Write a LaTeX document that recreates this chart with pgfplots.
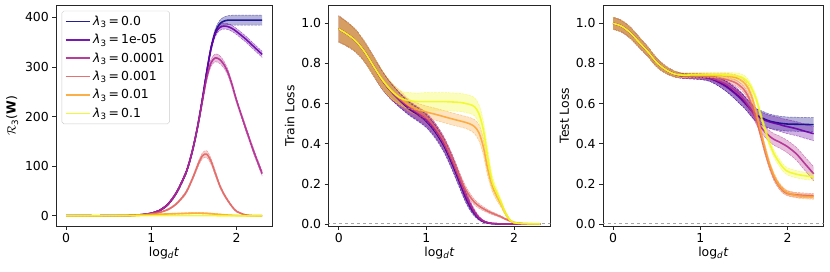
\documentclass[border={3pt 9pt 6pt 5pt}]{standalone}
\usepackage{pgfplots}
\pgfplotsset{compat=1.18}
\usepackage{pgfplotstable}
\usepgfplotslibrary{fillbetween}
\usepackage{fontspec}
\setmainfont{DejaVu Sans}

\definecolor{c0}{HTML}{0D0887}
\definecolor{c1}{HTML}{6A00A8}
\definecolor{c2}{HTML}{B12A90}
\definecolor{c3}{HTML}{E16462}
\definecolor{c4}{HTML}{FCA636}
\definecolor{c5}{HTML}{F0F921}

% R3(W)
\pgfplotstableread{
x    m0   d0  m1   d1  m2   d2  m3   d3  m4   d4  m5   d5
0    0    0.5 0    0.5 0    0.5 0    0.5 0    0.5 0    0.3
0.1  0    0.5 0    0.5 0    0.5 0    0.5 0    0.5 0    0.3
0.2  0    0.5 0    0.5 0    0.5 0    0.5 0.05 0.5 0    0.3
0.3  0    0.5 0    0.5 0    0.5 0    0.5 0.1  0.5 0    0.3
0.4  0    0.5 0    0.5 0    0.5 0    0.5 0.15 0.5 0    0.3
0.5  0.05 0.5 0.05 0.5 0.05 0.5 0.05 0.5 0.3  0.5 0    0.3
0.6  0.1  0.5 0.1  0.5 0.1  0.5 0.1  0.5 0.5  0.6 0.05 0.3
0.7  0.3  0.5 0.3  0.5 0.3  0.5 0.25 0.5 0.9  0.7 0.1  0.3
0.8  1.0  0.6 1.0  0.6 1.0  0.6 0.7  0.6 1.4  0.8 0.15 0.3
0.9  2.5  0.8 2.5  0.8 2.5  0.8 1.8  0.7 2.0  0.9 0.2  0.3
1.0  5    1   5    1   5    1   3.5  1   2.6  1   0.25 0.3
1.1  11   1.5 11   1.5 11   1.5 7    1.2 3.2  1.1 0.3  0.3
1.2  24   2   24   2   24   2   13   1.5 3.8  1.2 0.35 0.3
1.3  48   2.5 48   2.5 48   2.5 25   2   4.3  1.3 0.4  0.3
1.4  84   3   84   3   84   3   45   3   4.8  1.4 0.4  0.3
1.45 110  3   110  3   110  3   62   3.5 5.1  1.5 0.4  0.3
1.5  144  3.5 144  3.5 144  3.5 82   4   5.3  1.5 0.4  0.3
1.55 186  4   186  4   185  4   104  5   5.4  1.6 0.4  0.3
1.6  236  4   236  4   232  5   121  6   5.2  1.6 0.35 0.3
1.65 290  5   289  5   278  6   124  7   4.8  1.5 0.3  0.3
1.7  338  5   336  5   308  7   110  6   4.2  1.4 0.25 0.3
1.75 370  6   367  6   318  8   86   5   3.5  1.2 0.2  0.3
1.8  386  7   379  6   315  8   62   4   2.8  1.0 0.15 0.3
1.85 392  8   382  6   305  7   44   3   2.1  0.8 0.1  0.3
1.9  394  9   381  6   288  6   30   2.5 1.5  0.6 0.1  0.3
1.95 394  10  377  6   262  6   18   2   1.0  0.5 0.05 0.3
2.0  394  10  371  6   232  5   9    1.5 0.6  0.4 0.05 0.3
2.1  394  10  357  6   180  5   2    1   0.2  0.3 0    0.3
2.2  394  10  341  6   130  5   0.3  0.5 0.1  0.3 0    0.3
2.3  394  10  325  6   85   5   0    0.5 0.05 0.3 0    0.3
}\tabR

% Train loss
\pgfplotstableread{
x    m0    d0    m1    d1    m2    d2    m3     d3    m4    d4    m5    d5
0    0.972 0.065 0.972 0.065 0.972 0.065 0.972  0.065 0.972 0.065 0.972 0.065
0.1  0.945 0.06  0.945 0.06  0.945 0.06  0.945  0.06  0.945 0.06  0.945 0.06
0.2  0.91  0.055 0.91  0.055 0.91  0.055 0.91   0.055 0.91  0.055 0.91  0.055
0.3  0.855 0.05  0.855 0.05  0.855 0.05  0.855  0.05  0.855 0.05  0.855 0.05
0.4  0.785 0.048 0.785 0.048 0.785 0.048 0.785  0.048 0.785 0.048 0.785 0.048
0.5  0.715 0.045 0.715 0.045 0.715 0.045 0.715  0.045 0.717 0.045 0.718 0.045
0.6  0.66  0.04  0.66  0.04  0.66  0.04  0.662  0.04  0.665 0.04  0.665 0.04
0.7  0.615 0.035 0.615 0.035 0.618 0.035 0.622  0.03  0.63  0.035 0.628 0.035
0.8  0.575 0.032 0.577 0.032 0.582 0.032 0.59   0.025 0.592 0.03  0.615 0.04
0.9  0.545 0.032 0.548 0.032 0.553 0.032 0.56   0.022 0.572 0.03  0.61  0.042
1.0  0.512 0.032 0.515 0.032 0.522 0.032 0.532  0.02  0.558 0.03  0.61  0.045
1.1  0.46  0.032 0.465 0.032 0.472 0.032 0.482  0.02  0.547 0.03  0.61  0.045
1.2  0.39  0.032 0.395 0.032 0.402 0.032 0.415  0.02  0.535 0.03  0.61  0.045
1.3  0.295 0.032 0.30  0.032 0.31  0.032 0.32   0.02  0.523 0.03  0.608 0.045
1.4  0.185 0.028 0.19  0.028 0.20  0.028 0.215  0.02  0.512 0.03  0.605 0.045
1.45 0.13  0.024 0.135 0.024 0.145 0.024 0.17   0.018 0.506 0.03  0.60  0.045
1.5  0.085 0.018 0.09  0.018 0.098 0.018 0.135  0.016 0.498 0.032 0.595 0.045
1.55 0.05  0.012 0.055 0.012 0.06  0.013 0.108  0.014 0.485 0.035 0.584 0.045
1.6  0.026 0.007 0.028 0.007 0.032 0.008 0.09   0.012 0.455 0.04  0.55  0.045
1.65 0.012 0.004 0.013 0.004 0.015 0.005 0.076  0.01  0.385 0.04  0.47  0.045
1.7  0.005 0.002 0.006 0.002 0.007 0.003 0.064  0.008 0.275 0.035 0.335 0.04
1.75 0.002 0.001 0.002 0.001 0.003 0.002 0.054  0.007 0.19  0.025 0.215 0.03
1.8  0.001 0.001 0.001 0.001 0.001 0.001 0.045  0.006 0.14  0.02  0.16  0.02
1.85 0     0.001 0     0.001 0     0.001 0.036  0.005 0.10  0.015 0.11  0.015
1.9  0     0.001 0     0.001 0     0.001 0.025  0.004 0.055 0.01  0.057 0.01
1.95 0     0.001 0     0.001 0     0.001 0.016  0.003 0.02  0.006 0.022 0.006
2.0  0     0.001 0     0.001 0     0.001 0.008  0.002 0.006 0.003 0.007 0.003
2.1  0     0.001 0     0.001 0     0.001 0.002  0.001 0.002 0.001 0.002 0.001
2.2  0     0.001 0     0.001 0     0.001 0.0005 0.001 0.001 0.001 0.001 0.001
2.3  0     0.001 0     0.001 0     0.001 0      0.001 0     0.001 0     0.001
}\tabTrain

% Test loss
\pgfplotstableread{
x    m0    d0    m1    d1    m2    d2    m3    d3    m4    d4    m5    d5
0    1.0   0.03  1.0   0.03  1.0   0.03  1.0   0.03  1.0   0.03  1.0   0.03
0.1  0.985 0.029 0.985 0.029 0.985 0.029 0.985 0.029 0.985 0.029 0.985 0.029
0.2  0.952 0.028 0.952 0.028 0.952 0.028 0.952 0.028 0.952 0.028 0.952 0.028
0.3  0.905 0.026 0.905 0.026 0.905 0.026 0.905 0.026 0.905 0.026 0.905 0.026
0.4  0.858 0.024 0.858 0.024 0.858 0.024 0.858 0.024 0.858 0.024 0.858 0.024
0.5  0.805 0.022 0.805 0.022 0.805 0.022 0.805 0.022 0.805 0.022 0.805 0.022
0.6  0.77  0.018 0.77  0.018 0.77  0.018 0.77  0.018 0.77  0.018 0.77  0.018
0.7  0.748 0.015 0.748 0.015 0.748 0.015 0.748 0.015 0.748 0.015 0.748 0.015
0.8  0.738 0.012 0.738 0.012 0.738 0.012 0.739 0.012 0.74  0.012 0.742 0.012
0.9  0.735 0.012 0.735 0.012 0.736 0.012 0.738 0.012 0.74  0.012 0.743 0.012
1.0  0.733 0.013 0.733 0.013 0.735 0.012 0.737 0.012 0.74  0.012 0.743 0.012
1.1  0.727 0.015 0.727 0.015 0.73  0.013 0.735 0.012 0.74  0.012 0.743 0.012
1.2  0.71  0.02  0.71  0.02  0.715 0.015 0.73  0.013 0.74  0.012 0.743 0.013
1.3  0.685 0.025 0.685 0.025 0.695 0.018 0.72  0.014 0.738 0.013 0.742 0.014
1.4  0.65  0.028 0.65  0.028 0.665 0.02  0.705 0.015 0.73  0.014 0.738 0.015
1.45 0.63  0.03  0.63  0.03  0.645 0.02  0.69  0.015 0.72  0.015 0.735 0.015
1.5  0.61  0.03  0.61  0.03  0.62  0.022 0.67  0.016 0.705 0.015 0.725 0.016
1.55 0.585 0.03  0.585 0.03  0.59  0.023 0.635 0.016 0.675 0.016 0.705 0.016
1.6  0.56  0.032 0.56  0.032 0.555 0.024 0.58  0.017 0.62  0.016 0.665 0.017
1.65 0.54  0.033 0.54  0.033 0.515 0.025 0.51  0.017 0.54  0.017 0.61  0.017
1.7  0.53  0.034 0.525 0.033 0.48  0.026 0.43  0.017 0.45  0.017 0.53  0.018
1.75 0.52  0.035 0.515 0.033 0.455 0.027 0.35  0.017 0.365 0.017 0.46  0.018
1.8  0.512 0.035 0.508 0.033 0.435 0.028 0.28  0.016 0.29  0.016 0.395 0.018
1.85 0.507 0.035 0.502 0.034 0.42  0.029 0.225 0.015 0.235 0.015 0.345 0.018
1.9  0.503 0.035 0.497 0.034 0.41  0.03  0.19  0.014 0.195 0.014 0.31  0.018
1.95 0.5   0.035 0.49  0.034 0.398 0.03  0.165 0.013 0.17  0.013 0.28  0.018
2.0  0.498 0.035 0.485 0.035 0.385 0.031 0.152 0.012 0.155 0.012 0.262 0.018
2.1  0.497 0.035 0.475 0.035 0.35  0.032 0.145 0.012 0.142 0.012 0.248 0.018
2.2  0.496 0.035 0.462 0.035 0.30  0.034 0.142 0.012 0.137 0.012 0.24  0.018
2.3  0.495 0.035 0.45  0.035 0.25  0.035 0.14  0.012 0.135 0.012 0.235 0.018
}\tabTest

% #1 table, #2 index, #3 colour, #4 path prefix, #5 legend command (or empty)
\newcommand{\series}[5]{%
  \addplot[name path=#4u#2, draw=#3, draw opacity=0.55, line width=0.5pt, dash pattern=on 2.5pt off 1pt, smooth, tension=0.5, forget plot]
    table[x=x, y expr=\thisrow{m#2}+\thisrow{d#2}] {#1};
  \addplot[name path=#4l#2, draw=#3, draw opacity=0.55, line width=0.5pt, dash pattern=on 2.5pt off 1pt, smooth, tension=0.5, forget plot]
    table[x=x, y expr=\thisrow{m#2}-\thisrow{d#2}] {#1};
  \addplot[fill=#3, fill opacity=0.3, draw=none, forget plot] fill between[of=#4u#2 and #4l#2];
  \addplot[#3, line width=1.6pt, opacity=0.9, smooth, tension=0.5] table[x=x, y=m#2] {#1};
  #5
}
\newcommand{\lam}[1]{\addlegendentry{\textit{λ}\textsubscript{3}\,=\,#1}}

\pgfplotsset{
  panel/.style={
    scale only axis, height=222pt,
    xmin=-0.115, xmax=2.415,
    xtick={0,1,2},
    axis line style={black!85, line width=0.6pt},
    tick align=outside, xtick pos=bottom, ytick pos=left,
    major tick length=4pt,
    tick style={black!85, line width=0.6pt},
    /pgf/number format/assume math mode=true,
    tick label style={font=\fontsize{12.5}{15}\selectfont},
    label style={font=\fontsize{12.5}{15}\selectfont},
    xlabel={log\textsubscript{\textit{d}}\textit{t}},
    xlabel style={yshift=3pt},
    clip=true,
  },
  lossaxis/.style={
    ymin=-0.01, ymax=1.09,
    ytick={0,0.2,0.4,0.6,0.8,1.0},
    yticklabel style={/pgf/number format/.cd, fixed, fixed zerofill, precision=1},
  },
}

\begin{document}
\begin{tikzpicture}
\begin{axis}[panel, width=217pt, at={(0pt,0pt)}, anchor=south west,
  ymin=-20.5, ymax=424,
  ytick={0,100,200,300,400},
  ylabel={$\mathcal{R}$\textsubscript{3}(\textbf{W})},
  legend cell align=left,
  legend style={at={(0.025,0.975)}, anchor=north west, draw=black!20, rounded corners=2pt,
    fill=white, fill opacity=0.85, text opacity=1, font=\fontsize{12.5}{15}\selectfont,
    inner xsep=3pt, inner ysep=3pt, row sep=3.5pt},
  legend image code/.code={\draw[mark repeat=2, mark phase=2, #1] plot coordinates {(0pt,0pt) (12.5pt,0pt) (25pt,0pt)};},
]
\series{\tabR}{0}{c0}{A}{\lam{0.0}}
\series{\tabR}{1}{c1}{A}{\lam{1e-05}}
\series{\tabR}{2}{c2}{A}{\lam{0.0001}}
\series{\tabR}{3}{c3}{A}{\lam{0.001}}
\series{\tabR}{4}{c4}{A}{\lam{0.01}}
\series{\tabR}{5}{c5}{A}{\lam{0.1}}
\end{axis}

\begin{axis}[panel, lossaxis, width=223pt, at={(274pt,0pt)}, anchor=south west,
  ylabel={Train Loss}]
\addplot[gray!70, dashed, line width=1pt, forget plot] coordinates {(-0.2,0) (2.5,0)};
\series{\tabTrain}{0}{c0}{B}{}
\series{\tabTrain}{1}{c1}{B}{}
\series{\tabTrain}{2}{c2}{B}{}
\series{\tabTrain}{3}{c3}{B}{}
\series{\tabTrain}{4}{c4}{B}{}
\series{\tabTrain}{5}{c5}{B}{}
\end{axis}

\begin{axis}[panel, lossaxis, width=222pt, at={(550pt,0pt)}, anchor=south west,
  ylabel={Test Loss}]
\addplot[gray!70, dashed, line width=1pt, forget plot] coordinates {(-0.2,0) (2.5,0)};
\series{\tabTest}{0}{c0}{C}{}
\series{\tabTest}{1}{c1}{C}{}
\series{\tabTest}{2}{c2}{C}{}
\series{\tabTest}{3}{c3}{C}{}
\series{\tabTest}{4}{c4}{C}{}
\series{\tabTest}{5}{c5}{C}{}
\end{axis}
\end{tikzpicture}
\end{document}
